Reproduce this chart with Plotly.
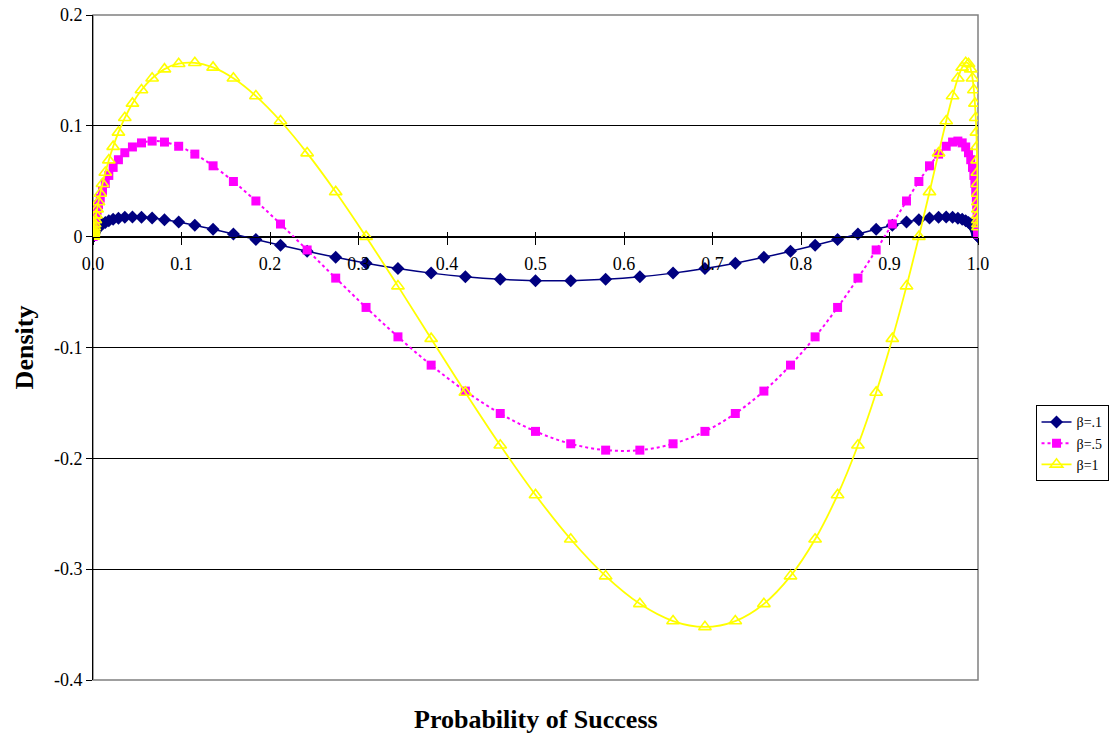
import plotly.graph_objects as go

# Probability of success (x positions of the points)
prob = [0.00003, 0.00005, 0.00007, 0.00011, 0.00016, 0.00023, 0.00034, 0.00048, 0.00069, 0.00097,
        0.00135, 0.00187, 0.00256, 0.00347, 0.00466, 0.00621, 0.00820, 0.01072, 0.01390, 0.01786,
        0.02275, 0.02872, 0.03593, 0.04457, 0.05480, 0.06681, 0.08076, 0.09680, 0.11507, 0.13567,
        0.15866, 0.18406, 0.21186, 0.24196, 0.27425, 0.30854, 0.34458, 0.38209, 0.42074, 0.46017,
        0.50000,
        0.53983, 0.57926, 0.61791, 0.65542, 0.69146, 0.72575, 0.75804, 0.78814, 0.81594, 0.84134,
        0.86433, 0.88493, 0.90320, 0.91924, 0.93319, 0.94520, 0.95543, 0.96407, 0.97128, 0.97725,
        0.98214, 0.98610, 0.98928, 0.99180, 0.99379, 0.99534, 0.99653, 0.99744, 0.99813, 0.99865,
        0.99903, 0.99931, 0.99952, 0.99966, 0.99977, 0.99984, 0.99989, 0.99993, 0.99995, 0.99997]

beta_01 = [0.00017, 0.00024, 0.00033, 0.00046, 0.00063, 0.00085, 0.00113, 0.00149, 0.00194, 0.00249,
           0.00316, 0.00396, 0.00489, 0.00596, 0.00716, 0.00849, 0.00991, 0.01139, 0.01288, 0.01431,
           0.01561, 0.01668, 0.01743, 0.01777, 0.01759, 0.01681, 0.01535, 0.01318, 0.01026, 0.00663,
           0.00235, -0.00247, -0.00770, -0.01316, -0.01863, -0.02389, -0.02872, -0.03289, -0.03620, -0.03851,
           -0.03970,
           -0.03970, -0.03851, -0.03620, -0.03289, -0.02872, -0.02389, -0.01863, -0.01316, -0.00770, -0.00247,
           0.00235, 0.00663, 0.01026, 0.01318, 0.01535, 0.01681, 0.01759, 0.01777, 0.01743, 0.01668,
           0.01561, 0.01431, 0.01288, 0.01139, 0.00991, 0.00849, 0.00716, 0.00596, 0.00489, 0.00396,
           0.00316, 0.00249, 0.00194, 0.00149, 0.00113, 0.00085, 0.00063, 0.00046, 0.00033, 0.00024]

beta_05 = [0.00039, 0.00057, 0.00081, 0.00115, 0.00162, 0.00223, 0.00305, 0.00412, 0.00549, 0.00723,
           0.00940, 0.01208, 0.01533, 0.01919, 0.02372, 0.02892, 0.03476, 0.04120, 0.04809, 0.05527,
           0.06249, 0.06943, 0.07573, 0.08093, 0.08460, 0.08624, 0.08536, 0.08157, 0.07450, 0.06393,
           0.04979, 0.03219, 0.01142, -0.01200, -0.03738, -0.06385, -0.09039, -0.11592, -0.13934, -0.15957,
           -0.17568,
           -0.18687, -0.19261, -0.19261, -0.18687, -0.17568, -0.15957, -0.13934, -0.11592, -0.09039, -0.06385,
           -0.03738, -0.01200, 0.01142, 0.03219, 0.04979, 0.06393, 0.07450, 0.08157, 0.08536, 0.08624,
           0.08460, 0.08093, 0.07573, 0.06943, 0.06249, 0.05527, 0.04809, 0.04120, 0.03476, 0.02892,
           0.02372, 0.01919, 0.01533, 0.01208, 0.00940, 0.00723, 0.00549, 0.00412, 0.00305, 0.00223]

beta_1 = [0.00027, 0.00041, 0.00059, 0.00086, 0.00124, 0.00177, 0.00250, 0.00346, 0.00476, 0.00646,
          0.00867, 0.01148, 0.01504, 0.01944, 0.02482, 0.03129, 0.03893, 0.04778, 0.05785, 0.06904,
          0.08121, 0.09407, 0.10724, 0.12022, 0.13236, 0.14294, 0.15113, 0.15607, 0.15687, 0.15271,
          0.14287, 0.12685, 0.10435, 0.07540, 0.04037, 0.00000, -0.04462, -0.09203, -0.14054, -0.18821,
          -0.23302,
          -0.27300, -0.30628, -0.33129, -0.34681, -0.35207, -0.34681, -0.33129, -0.30628, -0.27300, -0.23302,
          -0.18821, -0.14054, -0.09203, -0.04462, 0.00000, 0.04037, 0.07540, 0.10435, 0.12685, 0.14287,
          0.15271, 0.15687, 0.15607, 0.15113, 0.14294, 0.13236, 0.12022, 0.10724, 0.09407, 0.08121,
          0.06904, 0.05785, 0.04778, 0.03893, 0.03129, 0.02482, 0.01944, 0.01504, 0.01148, 0.00867]

series_names = ["β=.1", "β=.5", "β=1"]

x_tickvals = [0.0, 0.1, 0.2, 0.3, 0.4, 0.5, 0.6, 0.7, 0.8, 0.9, 1.0]
x_ticktext = ["0.0", "0.1", "0.2", "0.3", "0.4", "0.5", "0.6", "0.7", "0.8", "0.9", "1.0"]
y_tickvals = [0.2, 0.1, 0.0, -0.1, -0.2, -0.3, -0.4]
y_ticktext = ["0.2", "0.1", "0", "-0.1", "-0.2", "-0.3", "-0.4"]

FONT = "Liberation Serif"

fig = go.Figure()

fig.add_trace(go.Scatter(
    x=prob, y=beta_01, mode="lines+markers", name=series_names[0],
    line=dict(color="#000080", width=1.5, shape="spline"),
    marker=dict(symbol="diamond", size=10, color="#000080")))
fig.add_trace(go.Scatter(
    x=prob, y=beta_05, mode="lines+markers", name=series_names[1],
    line=dict(color="#FF00FF", width=2, dash="dot", shape="spline"),
    marker=dict(symbol="square", size=9, color="#FF00FF")))
fig.add_trace(go.Scatter(
    x=prob, y=beta_1, mode="lines+markers", name=series_names[2],
    line=dict(color="#FFFF00", width=1.8, shape="spline"),
    marker=dict(symbol="triangle-up-open", size=11, color="#FFFF00", line=dict(width=1.6, color="#FFFF00"))))
# empty trace registering the overlay axis used for upward tick marks
fig.add_trace(go.Scatter(x=[], y=[], xaxis="x2", showlegend=False, hoverinfo="skip"))

fig.update_layout(
    width=1112, height=739,
    margin=dict(l=93, r=134, t=15, b=59, autoexpand=False),
    paper_bgcolor="white", plot_bgcolor="white",
    font=dict(family=FONT, size=18, color="black"),
    showlegend=True,
    legend=dict(x=1.065, y=0.413, xanchor="left", yanchor="top",
                bordercolor="black", borderwidth=1, bgcolor="white",
                font=dict(family=FONT, size=14), itemwidth=30, tracegroupgap=0),
    xaxis=dict(range=[0, 1], anchor="free", position=2/3,
               tickmode="array", tickvals=x_tickvals, ticktext=x_ticktext,
               ticks="outside", ticklen=7, tickcolor="black", tickwidth=1,
               ticklabelstandoff=4,
               showline=True, linecolor="black", linewidth=1,
               showgrid=False, zeroline=False,
               tickfont=dict(family=FONT, size=18)),
    xaxis2=dict(range=[0, 1], overlaying="x", anchor="free", position=2/3,
                tickmode="array", tickvals=x_tickvals,
                ticks="inside", ticklen=5, tickcolor="black", tickwidth=1,
                showticklabels=False, showline=False, showgrid=False, zeroline=False),
    yaxis=dict(range=[-0.4, 0.2], tickmode="array", tickvals=y_tickvals, ticktext=y_ticktext,
               ticks="outside", ticklen=6, tickcolor="black",
               showline=True, linecolor="black", linewidth=1,
               showgrid=True, gridcolor="black", gridwidth=1, zeroline=False,
               tickfont=dict(family=FONT, size=18),
               title=dict(text="<b>Density</b>", font=dict(family=FONT, size=26), standoff=12)),
    shapes=[dict(type="rect", xref="x domain", yref="y domain", x0=0, x1=1, y0=0, y1=1,
                 line=dict(color="#808080", width=1.5), layer="below")],
    annotations=[dict(text="<b>Probability of Success</b>", xref="paper", yref="paper",
                      x=0.5, y=-0.06, xanchor="center", yanchor="middle", showarrow=False,
                      font=dict(family=FONT, size=26))],
)

fig.write_html("out.html", config={"displayModeBar": False},
               post_script="document.body.style.margin='0';")
